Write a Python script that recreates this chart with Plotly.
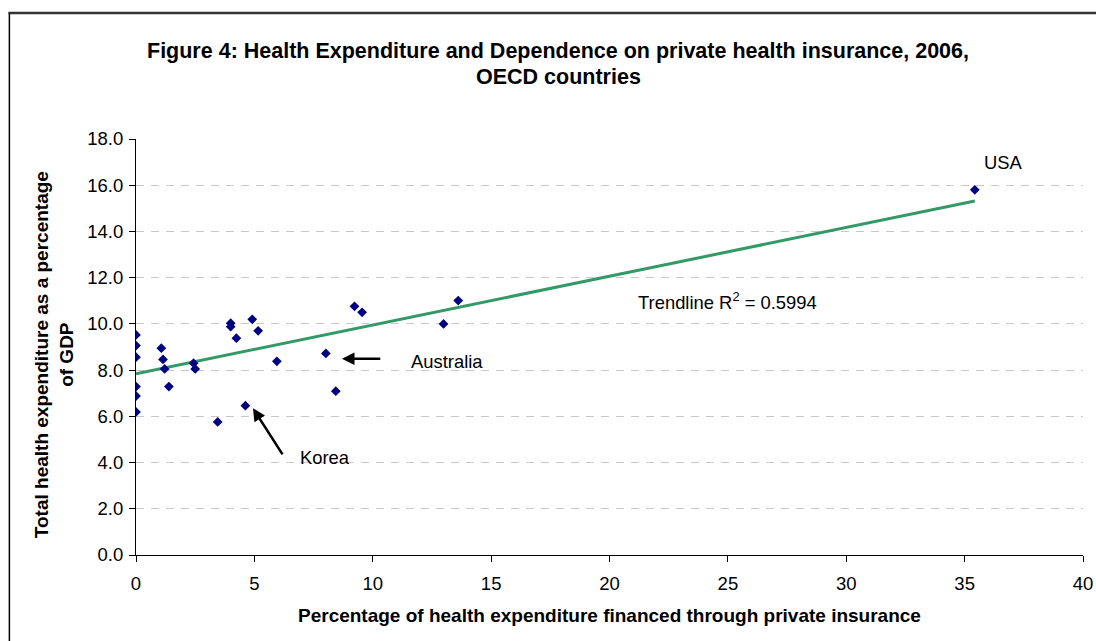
import plotly.graph_objects as go

# Data
private_ins_pct = [0, 0, 0, 0, 0, 0,
                   1.07, 1.14, 1.21, 1.39, 2.43, 2.50, 3.45, 4.00, 4.00, 4.24,
                   4.62, 4.91, 5.16, 5.95, 8.02, 8.44, 9.23, 9.55, 12.99, 13.61,
                   35.43]
health_exp_gdp = [9.52, 9.06, 8.56, 7.29, 6.88, 6.19,
                  8.95, 8.46, 8.05, 7.29, 8.30, 8.05, 5.76, 10.03, 9.88, 9.38,
                  6.46, 10.20, 9.70, 8.38, 8.72, 7.09, 10.76, 10.50, 10.00, 11.01,
                  15.80]
trend_x = [0, 35.43]
trend_y = [7.84, 15.32]
x_ticks = [0, 5, 10, 15, 20, 25, 30, 35, 40]
y_ticks = [0, 2, 4, 6, 8, 10, 12, 14, 16, 18]
title_lines = ["Figure 4: Health Expenditure and Dependence on private health insurance, 2006,",
               "OECD countries"]

FONT = "Liberation Sans, Arial, sans-serif"

fig = go.Figure()
fig.add_trace(go.Scatter(
    x=trend_x, y=trend_y, mode="lines",
    line=dict(color="#339966", width=3), hoverinfo="skip", showlegend=False))
fig.add_trace(go.Scatter(
    x=private_ins_pct, y=health_exp_gdp, mode="markers",
    marker=dict(symbol="diamond", size=7.5, color="#000080"), showlegend=False))

W, H = 1096, 641
L, R, T, B = 135.7, 12.7, 139.3, 86
pw, ph = W - L - R, H - T - B

def px(xp):
    return (xp - L) / pw

def py(yp):
    return (H - B - yp) / ph

ANN = 18.4
annotations = [
    dict(x=8.70, y=8.49, ax=10.38, ay=8.49, xref="x", yref="y", axref="x", ayref="y",
         text="", showarrow=True, arrowhead=2, arrowsize=1, arrowwidth=2.5,
         arrowcolor="black", standoff=0),
    dict(x=4.94, y=6.35, ax=6.23, ay=4.29, xref="x", yref="y", axref="x", ayref="y",
         text="", showarrow=True, arrowhead=2, arrowsize=1, arrowwidth=2.5,
         arrowcolor="black", standoff=0),
    dict(x=11.52, y=8.37, xref="x", yref="y", text="Australia", showarrow=False,
         xanchor="left", yanchor="middle", font=dict(size=ANN, color="black", family=FONT)),
    dict(x=6.84, y=4.24, xref="x", yref="y", text="Korea", showarrow=False,
         xanchor="left", yanchor="middle", font=dict(size=ANN, color="black", family=FONT)),
    dict(x=21.14, y=10.97, xref="x", yref="y", text="Trendline R<sup>2</sup> = 0.5994",
         showarrow=False, xanchor="left", yanchor="middle",
         font=dict(size=ANN, color="black", family=FONT)),
    dict(x=35.75, y=16.99, xref="x", yref="y", text="USA", showarrow=False,
         xanchor="left", yanchor="middle", font=dict(size=ANN, color="black", family=FONT)),
    dict(x=px(54), y=py(355), xref="paper", yref="paper", textangle=-90,
         text="<b>Total health expenditure as a percentage<br>of GDP</b>", showarrow=False,
         xanchor="center", yanchor="middle", font=dict(size=19, color="black", family=FONT)),
    dict(x=0.5, y=py(615), xref="paper", yref="paper",
         text="<b>Percentage of health expenditure financed through private insurance</b>",
         showarrow=False, xanchor="center", yanchor="middle",
         font=dict(size=19, color="black", family=FONT)),
    dict(x=px(558), y=py(51), xref="paper", yref="paper", text=f"<b>{title_lines[0]}</b>",
         showarrow=False, xanchor="center", yanchor="middle",
         font=dict(size=21.5, color="black", family=FONT)),
    dict(x=px(558), y=py(77), xref="paper", yref="paper", text=f"<b>{title_lines[1]}</b>",
         showarrow=False, xanchor="center", yanchor="middle",
         font=dict(size=21.5, color="black", family=FONT)),
]

shapes = [
    dict(type="line", xref="paper", yref="paper", x0=px(9), x1=px(9), y0=py(700), y1=py(13),
         line=dict(color="black", width=1.5)),
    dict(type="line", xref="paper", yref="paper", x0=px(8), x1=px(1200), y0=py(13.5), y1=py(13.5),
         line=dict(color="#333333", width=2.5)),
]

fig.update_layout(
    width=W, height=H,
    margin=dict(l=L, r=R, t=T, b=B, pad=0, autoexpand=False),
    paper_bgcolor="white", plot_bgcolor="white",
    font=dict(family=FONT, color="black", size=18),
    xaxis=dict(range=[0, 40], tickvals=x_ticks, ticktext=[str(v) for v in x_ticks],
               showgrid=False, zeroline=False, showline=True, linecolor="black", linewidth=1,
               ticks="outside", ticklen=6, tickcolor="black", tickwidth=1, automargin=False,
               tickfont=dict(size=18.5, color="black"), ticklabelstandoff=6, fixedrange=True),
    yaxis=dict(range=[0, 18], tickvals=y_ticks, ticktext=[f"{v:.1f}" for v in y_ticks],
               showgrid=True, gridcolor="#c8c8c8", gridwidth=1, griddash="8px,7px",
               zeroline=False, showline=True, linecolor="black", linewidth=1,
               ticks="outside", ticklen=6, tickcolor="black", tickwidth=1, automargin=False,
               tickfont=dict(size=18.5, color="black"), ticklabelstandoff=2, fixedrange=True),
    annotations=annotations,
    shapes=shapes,
)

fig.write_html("out.html", config={"displayModeBar": False})
